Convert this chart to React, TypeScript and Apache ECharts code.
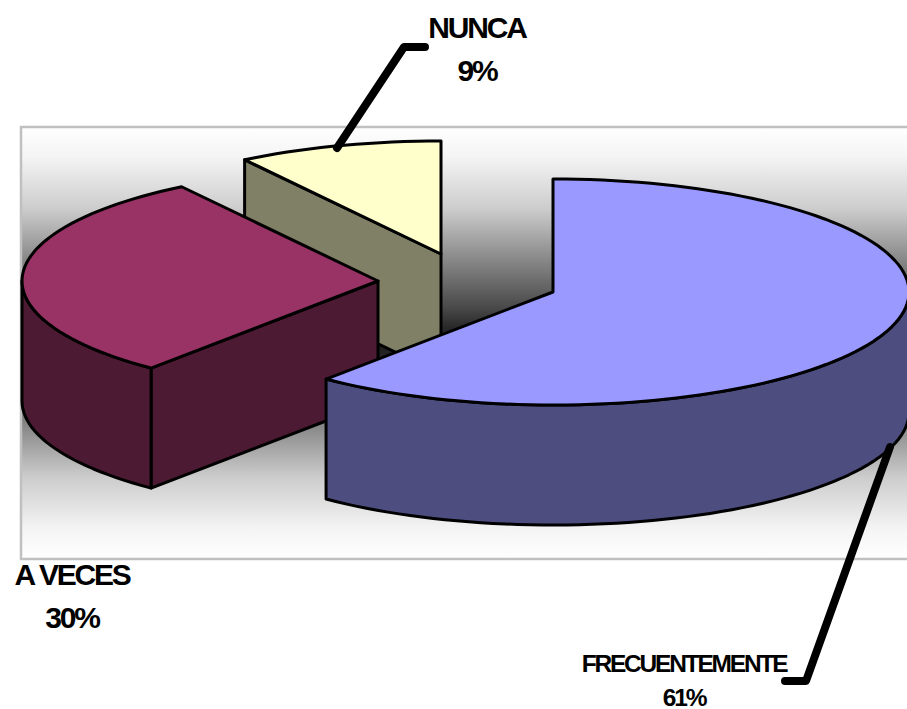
import React, { useEffect, useRef } from "react";
import * as echarts from "echarts";

const categories = ["FRECUENTEMENTE", "A VECES", "NUNCA"];
const values = [61, 29.7, 9.3];
const topColors = ["#9999ff", "#993366", "#ffffcc"];
const sideColors = ["#4d4d80", "#4d1a33", "#808066"];
const drawOrder = [2, 1, 0];
const labelFonts = [24.5, 30, 30];
const labelLayout = [
  { x: 684, y1: 663, y2: 697 },
  { x: 72, y1: 574, y2: 617 },
  { x: 477, y1: 27, y2: 70 },
];
const leaderLines = [
  [[890, 447], [806, 681], [785, 681]],
  [],
  [[337, 148], [404, 47], [425, 47]],
];
const centers = [
  [553, 292],
  [378, 281],
  [441, 254],
];
const RX = 356;
const RY = 113;
const DEPTH = 120;

function App() {
  const ref = useRef<HTMLDivElement>(null);
  useEffect(() => {
    document.body.style.margin = "0";
    const chart = echarts.init(ref.current!, null, { renderer: "svg" });
    const total = values.reduce((a, b) => a + b, 0);
    const starts: number[] = [];
    values.reduce((acc, v, i) => {
      starts[i] = acc;
      return acc + v;
    }, 0);

    const pt = (c: number[], t: number, dy = 0) => [
      c[0] + RX * Math.sin(t),
      c[1] - RY * Math.cos(t) + dy,
    ];
    const arcPts = (c: number[], a: number, b: number, dy = 0) => {
      const n = Math.max(2, Math.ceil(((b - a) / (2 * Math.PI)) * 180));
      const out: number[][] = [];
      for (let k = 0; k <= n; k++) out.push(pt(c, a + ((b - a) * k) / n, dy));
      return out;
    };
    const stroke = { stroke: "#000", lineWidth: 3, lineJoin: "round" };

    const renderItem = (params: any, api: any) => {
      const i = api.value(1);
      const c = centers[i];
      const a = (starts[i] / total) * 2 * Math.PI;
      const b = a + (api.value(0) / total) * 2 * Math.PI;
      const children: any[] = [];
      const wall = (pts: number[][]) =>
        children.push({
          type: "polygon",
          shape: { points: pts },
          style: { fill: sideColors[i], ...stroke },
        });
      const apexLow = [c[0], c[1] + DEPTH];
      const pa = pt(c, a);
      // The cut face that starts each slice looks towards the viewer for these two
      if (i === 1 || i === 2) {
        wall([c, pa, pt(c, a, DEPTH), apexLow]);
      }
      // Outer rim: only the front half of the ellipse shows
      const lo = Math.max(a, Math.PI / 2);
      const hi = Math.min(b, (3 * Math.PI) / 2);
      if (hi > lo) {
        const top = arcPts(c, lo, hi);
        const bottom = arcPts(c, lo, hi, DEPTH).reverse();
        wall([...top, ...bottom]);
      }
      children.push({
        type: "polygon",
        shape: { points: [c, ...arcPts(c, a, b)] },
        style: { fill: topColors[i], ...stroke },
      });
      return { type: "group", children };
    };

    const renderLabels = (params: any, api: any) => {
      const i = params.dataIndex;
      const l = labelLayout[i];
      const font = `bold ${labelFonts[i]}px "Liberation Sans", Arial, sans-serif`;
      const children: any[] = [];
      if (leaderLines[i].length) {
        children.push({
          type: "polyline",
          shape: { points: leaderLines[i] },
          style: { fill: "none", stroke: "#000", lineWidth: 8, lineCap: "round", lineJoin: "round" },
        });
      }
      children.push(
        {
          type: "text",
          style: { x: l.x, y: l.y1, text: categories[i], font, fill: "#000", align: "center", verticalAlign: "middle" },
        },
        {
          type: "text",
          style: { x: l.x, y: l.y2, text: `${Math.round(api.value(0))}%`, font, fill: "#000", align: "center", verticalAlign: "middle" },
        }
      );
      return { type: "group", children };
    };

    chart.setOption({
      animation: false,
      backgroundColor: "#ffffff",
      graphic: [
        {
          type: "rect",
          z: 0,
          shape: { x: 21, y: 127, width: 900, height: 432 },
          style: {
            stroke: "#c0c0c0",
            lineWidth: 2.5,
            fill: {
              type: "linear",
              x: 0,
              y: 0,
              x2: 0,
              y2: 1,
              colorStops: [
                { offset: 0, color: "#ffffff" },
                { offset: 0.07, color: "#f4f4f4" },
                { offset: 0.19, color: "#cccccc" },
                { offset: 0.3, color: "#8c8c8c" },
                { offset: 0.42, color: "#484848" },
                { offset: 0.465, color: "#282828" },
                { offset: 0.5, color: "#1a1a1a" },
                { offset: 0.535, color: "#282828" },
                { offset: 0.58, color: "#484848" },
                { offset: 0.7, color: "#8c8c8c" },
                { offset: 0.81, color: "#cccccc" },
                { offset: 0.93, color: "#f4f4f4" },
                { offset: 1, color: "#ffffff" },
              ],
            },
          },
        },
      ],
      series: [
        {
          type: "custom",
          coordinateSystem: "none",
          z: 2,
          data: drawOrder.map((i) => [values[i], i]),
          renderItem,
          silent: true,
        },
        {
          type: "custom",
          coordinateSystem: "none",
          z: 3,
          data: values.map((v, i) => [v, i]),
          renderItem: renderLabels,
          silent: true,
        },
      ],
    });
    return () => chart.dispose();
  }, []);
  return (
    <div
      ref={ref}
      style={{ position: "absolute", left: 0, top: 0, width: 907, height: 709, letterSpacing: "-2.2px" }}
    />
  );
}

export default App;
